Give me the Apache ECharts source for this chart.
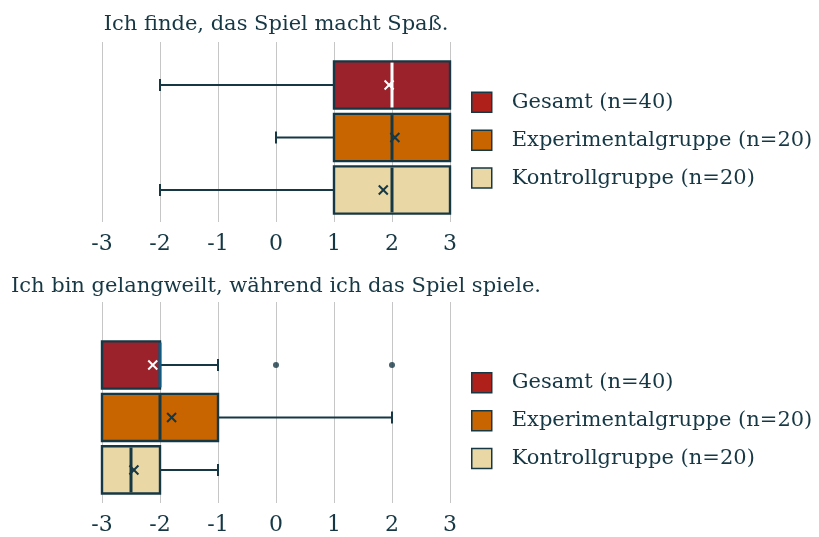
<!DOCTYPE html>
<html>
<head>
<meta charset="utf-8">
<script src="https://cdn.jsdelivr.net/npm/echarts@6/dist/echarts.min.js"></script>
<style>
  html, body { margin: 0; padding: 0; background: #ffffff; }
  #chart { width: 819px; height: 537px; }
</style>
</head>
<body>
<div id="chart"></div>
<script>
// Groups shown in each panel (top to bottom)
const groups = ['Gesamt (n=40)', 'Experimentalgruppe (n=20)', 'Kontrollgruppe (n=20)'];
const questions = ['Ich finde, das Spiel macht Spaß.', 'Ich bin gelangweilt, während ich das Spiel spiele.'];
const tickValues = [-3, -2, -1, 0, 1, 2, 3];

// Box statistics per group: [min, Q1, median, Q3, max]
const funStats = [[-2, 1, 2, 3, 3], [0, 1, 2, 3, 3], [-2, 1, 2, 3, 3]];
const funMeans = [1.95, 2.05, 1.85];
const funOutliers = [[], [], []];

const boredStats = [[-3, -3, -2, -2, -1], [-3, -3, -2, -1, 2], [-3, -3, -2.5, -2, -1]];
const boredMeans = [-2.125, -1.8, -2.45];
const boredOutliers = [[0, 2], [], []];

const INK = '#163845';
const FONT = '"DejaVu Serif", "Liberation Serif", serif';
const fills = ['#9b222b', '#c96500', '#ead7a6'];
const legendFills = ['#b0201a', '#c96500', '#ead7a6'];
const markColors = ['#ffffff', INK, INK];
// per panel, colour of the Gesamt median stroke
const medianColors = [['#ffffff', INK, INK], ['#0d5b80', INK, INK]];

function makeRenderer(panel, g) {
  return function (params, api) {
    const row = api.value(0);
    const mn = api.value(1), q1 = api.value(2), md = api.value(3), q3 = api.value(4), mx = api.value(5), mean = api.value(6);
    const y = api.coord([0, row])[1];
    const h = api.size([0, 1])[1] * 0.45;
    const px = v => api.coord([v, row])[0];
    const kids = [];
    const wStyle = { stroke: INK, lineWidth: 2 };
    const cap = 6;
    if (mn < q1) {
      kids.push({ type: 'line', shape: { x1: px(mn), y1: y, x2: px(q1), y2: y }, style: wStyle });
      kids.push({ type: 'line', shape: { x1: px(mn), y1: y - cap, x2: px(mn), y2: y + cap }, style: wStyle });
    }
    if (mx > q3) {
      kids.push({ type: 'line', shape: { x1: px(q3), y1: y, x2: px(mx), y2: y }, style: wStyle });
      kids.push({ type: 'line', shape: { x1: px(mx), y1: y - cap, x2: px(mx), y2: y + cap }, style: wStyle });
    }
    kids.push({
      type: 'rect',
      shape: { x: px(q1), y: y - h, width: px(q3) - px(q1), height: 2 * h },
      style: { fill: fills[g], stroke: INK, lineWidth: 2.4 }
    });
    kids.push({
      type: 'line',
      shape: { x1: px(md), y1: y - h + 1.2, x2: px(md), y2: y + h - 1.2 },
      style: { stroke: medianColors[panel][g], lineWidth: 3 }
    });
    const mX = px(mean), s = 4.5;
    const mStyle = { stroke: markColors[g], lineWidth: 2 };
    kids.push({ type: 'line', shape: { x1: mX - s, y1: y - s, x2: mX + s, y2: y + s }, style: mStyle });
    kids.push({ type: 'line', shape: { x1: mX - s, y1: y + s, x2: mX + s, y2: y - s }, style: mStyle });
    return { type: 'group', children: kids };
  };
}

const panels = [
  { stats: funStats, means: funMeans, outliers: funOutliers, top: 42, height: 180, ymin: -0.82, ymax: 2.61, legendTop: 91.5, titleTop: 9 },
  { stats: boredStats, means: boredMeans, outliers: boredOutliers, top: 302, height: 201, ymin: -1.2, ymax: 2.63, legendTop: 372, titleTop: 271 }
];

const grid = [], xAxis = [], yAxis = [], series = [], legend = [], title = [];

panels.forEach((p, i) => {
  grid.push({ left: 102, width: 348, top: p.top, height: p.height });
  xAxis.push({
    type: 'value', gridIndex: i, min: -3, max: 3, interval: 1,
    axisLine: { show: false }, axisTick: { show: false },
    splitLine: { show: true, lineStyle: { color: '#c6c6c6', width: 1 } },
    axisLabel: { color: INK, fontFamily: FONT, fontSize: 22, margin: 11,
      formatter: v => tickValues.includes(v) ? String(v) : '' }
  });
  yAxis.push({
    type: 'value', gridIndex: i, min: p.ymin, max: p.ymax, inverse: true,
    show: false, splitLine: { show: false }
  });
  groups.forEach((name, g) => {
    series.push({
      type: 'custom', name, xAxisIndex: i, yAxisIndex: i,
      itemStyle: { color: legendFills[g] },
      renderItem: makeRenderer(i, g),
      encode: { x: [1, 2, 3, 4, 5, 6], y: 0 },
      data: [[g].concat(p.stats[g], [p.means[g]])],
      silent: true
    });
  });
  const outlierPts = [];
  p.outliers.forEach((list, g) => list.forEach(v => outlierPts.push([v, g])));
  series.push({
    type: 'scatter', name: 'Ausreißer', xAxisIndex: i, yAxisIndex: i,
    symbol: 'circle', symbolSize: 6, itemStyle: { color: INK },
    data: outlierPts, silent: true
  });
  legend.push({
    orient: 'vertical', left: 471, top: p.legendTop, padding: 0,
    itemWidth: 20, itemHeight: 20, itemGap: 16.4, icon: 'rect',
    selectedMode: false,
    textStyle: { color: INK, fontFamily: FONT, fontSize: 21, padding: [0, 0, 0, 15] },
    data: groups.map((name, g) => ({ name, itemStyle: { color: legendFills[g], borderColor: INK, borderWidth: 1.5 } }))
  });
  title.push({
    text: questions[i], left: 271, top: p.titleTop, textAlign: 'center',
    textStyle: { color: INK, fontFamily: FONT, fontSize: 21, fontWeight: 'normal' }
  });
});

const chart = echarts.init(document.getElementById('chart'), null, { renderer: 'canvas' });
chart.setOption({
  animation: false,
  backgroundColor: '#ffffff',
  title, grid, xAxis, yAxis, legend, series
});
</script>
</body>
</html>
